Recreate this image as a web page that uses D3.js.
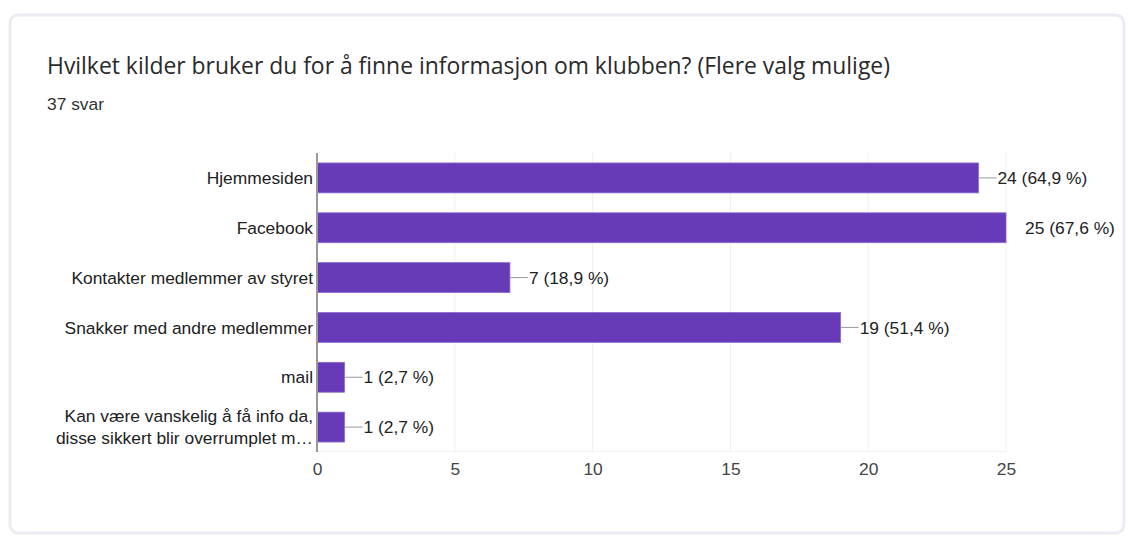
<!DOCTYPE html>
<html>
<head>
<meta charset="utf-8">
<script src="https://cdn.jsdelivr.net/npm/d3@7"></script>
<style>
  body { margin: 0; background: #fff; }
  svg { display: block; }
</style>
</head>
<body>
<svg id="chart" width="1132" height="538"></svg>
<script>
// Survey data
const title = "Hvilket kilder bruker du for å finne informasjon om klubben? (Flere valg mulige)";
const totalAnswers = 37;
const categories = [
    "Hjemmesiden",
    "Facebook",
    "Kontakter medlemmer av styret",
    "Snakker med andre medlemmer",
    "mail",
    "Kan være vanskelig å få info da,\ndisse sikkert blir overrumplet m…"
];
const counts = [24, 25, 7, 19, 1, 1];
const xTicks = [0, 5, 10, 15, 20, 25];

const svg = d3.select("#chart");
const labelFont = "Arial, 'Liberation Sans', sans-serif";
const labelSize = 17.4;
const barColor = "#673ab7";

// Card
svg.append("rect")
    .attr("x", 10).attr("y", 15)
    .attr("width", 1114).attr("height", 518)
    .attr("rx", 8)
    .attr("fill", "#fff")
    .attr("stroke", "#ebebf3")
    .attr("stroke-width", 3);

svg.append("text")
    .attr("x", 47).attr("y", 74)
    .attr("font-family", "'Open Sans', Roboto, sans-serif")
    .attr("font-size", 22.9)
    .attr("fill", "#2a2a2a")
    .text(title);

svg.append("text")
    .attr("x", 47).attr("y", 110)
    .attr("font-family", labelFont)
    .attr("font-size", labelSize)
    .attr("fill", "#333")
    .text(`${totalAnswers} svar`);

// Scales
const x = d3.scaleLinear().domain([0, 25]).range([317, 1006]);
const y = d3.scaleBand().domain(categories).range([153, 452])
    .paddingInner(0.4).paddingOuter(0.2);

// Grid lines
svg.append("g")
    .selectAll("line")
    .data(xTicks.slice(1))
    .join("line")
    .attr("x1", d => x(d)).attr("x2", d => x(d))
    .attr("y1", 153).attr("y2", 452)
    .attr("stroke", "#f0f0f0")
    .attr("stroke-width", 1);

svg.append("line")
    .attr("x1", x(0)).attr("x2", x(25))
    .attr("y1", 451.5).attr("y2", 451.5)
    .attr("stroke", "#f0f0f0");

// Tick labels
const xAxis = svg.append("g")
    .attr("transform", "translate(0,459)")
    .call(d3.axisBottom(x).tickValues(xTicks).tickSize(0).tickPadding(0));
xAxis.select(".domain").remove();
xAxis.selectAll("text")
    .attr("dy", "0.9em")
    .attr("font-family", labelFont)
    .attr("font-size", labelSize)
    .attr("fill", "#444");

// Bars
svg.append("g")
    .selectAll("rect")
    .data(categories)
    .join("rect")
    .attr("x", x(0))
    .attr("y", d => y(d))
    .attr("width", (d, i) => x(counts[i]) - x(0))
    .attr("height", y.bandwidth())
    .attr("fill", barColor)
    .attr("stroke", "#8c6bd0")
    .attr("stroke-width", 0.8);

// Zero line
svg.append("line")
    .attr("x1", x(0)).attr("x2", x(0))
    .attr("y1", 153).attr("y2", 452)
    .attr("stroke", "#999")
    .attr("stroke-width", 2);

// Category labels
const catLabels = svg.append("g")
    .attr("font-family", labelFont)
    .attr("font-size", labelSize)
    .attr("fill", "#222")
    .attr("text-anchor", "end");

categories.forEach(c => {
    const lines = c.split("\n");
    const cy = y(c) + y.bandwidth() / 2;
    const lineH = 22;
    const t = catLabels.append("text")
        .attr("x", x(0) - 4);
    lines.forEach((ln, j) => {
        t.append("tspan")
            .attr("x", x(0) - 4)
            .attr("y", cy + (j - (lines.length - 1) / 2) * lineH)
            .attr("dy", "0.35em")
            .text(ln);
    });
});

// Value labels with connectors
const fmtPct = v => (v * 100).toFixed(1).replace(".", ",");
categories.forEach((c, i) => {
    const cy = y(c) + y.bandwidth() / 2;
    const xe = x(counts[i]);
    if (counts[i] < 25) {
        svg.append("line")
            .attr("x1", xe).attr("x2", xe + 18)
            .attr("y1", cy).attr("y2", cy)
            .attr("stroke", "#999")
            .attr("stroke-width", 1);
    }
    svg.append("text")
        .attr("x", xe + 19)
        .attr("y", cy)
        .attr("dy", "0.35em")
        .attr("font-family", labelFont)
        .attr("font-size", labelSize)
        .attr("fill", "#222")
        .text(`${counts[i]} (${fmtPct(counts[i] / totalAnswers)} %)`);
});
</script>
</body>
</html>
